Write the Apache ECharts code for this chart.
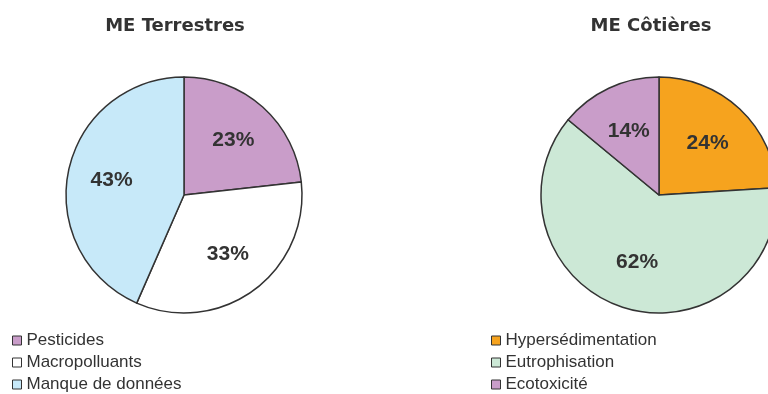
<!DOCTYPE html>
<html>
<head>
<meta charset="utf-8">
<script src="https://cdn.jsdelivr.net/npm/echarts@6/dist/echarts.min.js"></script>
<style>
  html, body { margin: 0; padding: 0; background: #fff; }
  #chart { width: 768px; height: 394px; }
</style>
</head>
<body>
<div id="chart"></div>
<script>
var terrNames = ['Pesticides', 'Macropolluants', 'Manque de données']
var terrValues = [23, 33, 43]
var terrColors = ['#c99dc9', '#ffffff', '#c7e9f9']

var cotNames = ['Hypersédimentation', 'Eutrophisation', 'Ecotoxicité']
var cotValues = [24, 62, 14]
var cotColors = ['#f6a31e', '#cce8d6', '#c99dc9']

var titles = ['ME Terrestres', 'ME Côtières']

function toData(names, values, colors) {
  return names.map(function (n, i) {
    return { name: n, value: values[i], itemStyle: { color: colors[i] } }
  })
}

// one visible pie + one transparent pie on top that only carries the labels
function pieSeries(names, values, colors, cx, r0) {
  return [
    {
      type: 'pie',
      center: [cx, 195],
      radius: [0, 118],
      startAngle: 90,
      label: { show: false },
      labelLine: { show: false },
      itemStyle: { borderColor: '#333', borderWidth: 1.5 },
      emphasis: { scale: false },
      data: toData(names, values, colors)
    },
    {
      type: 'pie',
      center: [cx, 195],
      radius: [r0, 118],
      startAngle: 90,
      silent: true,
      label: {
        show: true,
        position: 'inside',
        formatter: '{c}%',
        color: '#333',
        fontFamily: 'Liberation Sans',
        fontWeight: 'bold',
        fontSize: 21
      },
      labelLine: { show: false },
      itemStyle: { color: 'transparent', borderWidth: 0 },
      data: names.map(function (n, i) { return { name: n + ' ', value: values[i] } })
    }
  ]
}

var legendText = { color: '#333', fontFamily: 'Liberation Sans', fontSize: 17 }
var titleText = { fontFamily: 'DejaVu Sans', fontWeight: 'bold', fontSize: 18, color: '#333' }

var chart = echarts.init(document.getElementById('chart'))
var option = {
  backgroundColor: '#fff',
  animation: false,
  title: [
    { text: titles[0], left: 170, top: 12, textAlign: 'center', textStyle: titleText },
    { text: titles[1], left: 646, top: 12, textAlign: 'center', textStyle: titleText }
  ],
  legend: [
    {
      orient: 'vertical', left: 12, top: 332, padding: 0,
      itemWidth: 9, itemHeight: 9, itemGap: 5,
      icon: 'rect',
      itemStyle: { borderColor: '#333', borderWidth: 1 },
      textStyle: legendText,
      data: terrNames
    },
    {
      orient: 'vertical', left: 491, top: 332, padding: 0,
      itemWidth: 9, itemHeight: 9, itemGap: 5,
      icon: 'rect',
      itemStyle: { borderColor: '#333', borderWidth: 1 },
      textStyle: legendText,
      data: cotNames
    }
  ],
  series: pieSeries(terrNames, terrValues, terrColors, 184, 24)
    .concat(pieSeries(cotNames, cotValues, cotColors, 659, 18))
}
chart.setOption(option)
</script>
</body>
</html>
